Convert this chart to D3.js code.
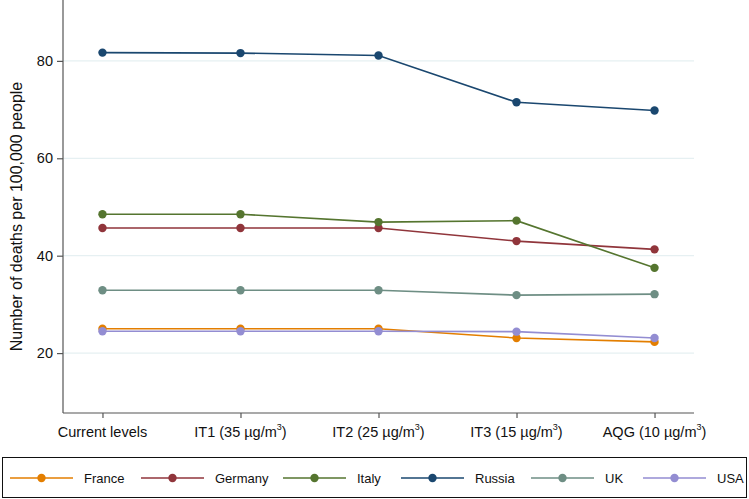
<!DOCTYPE html>
<html>
<head>
<meta charset="utf-8">
<script src="https://cdn.jsdelivr.net/npm/d3@7"></script>
<style>
  html, body { margin: 0; padding: 0; background: #fff; }
  svg { display: block; font-family: "Liberation Sans", Arial, sans-serif; }
</style>
</head>
<body>
<svg id="chart" width="749" height="499"></svg>
<script>
// ---- data ----
const categories = ["Current levels", "IT1 (35 µg/m3)", "IT2 (25 µg/m3)", "IT3 (15 µg/m3)", "AQG (10 µg/m3)"];
const categoryLabels = [
  ["Current levels", ""],
  ["IT1 (35 µg/m", "3", ")"],
  ["IT2 (25 µg/m", "3", ")"],
  ["IT3 (15 µg/m", "3", ")"],
  ["AQG (10 µg/m", "3", ")"]
];
const seriesNames = ["France", "Germany", "Italy", "Russia", "UK", "USA"];
const france  = [25.0, 25.0, 25.0, 23.1, 22.3];
const germany = [45.7, 45.7, 45.7, 43.0, 41.3];
const italy   = [48.5, 48.5, 46.9, 47.2, 37.5];
const russia  = [81.7, 81.6, 81.1, 71.5, 69.8];
const uk      = [32.9, 32.9, 32.9, 31.9, 32.1];
const usa     = [24.5, 24.5, 24.5, 24.4, 23.1];
const yTicks  = [20, 40, 60, 80];
const colors  = ["#e37e00", "#90353b", "#55752f", "#1a476f", "#6e8e84", "#938dd2"];

const seriesValues = [france, germany, italy, russia, uk, usa];

// ---- layout ----
const svg = d3.select("#chart");
const plot = { left: 63, right: 694, top: 0, bottom: 413 };

const x = d3.scalePoint().domain(categories).range([plot.left, plot.right]).padding(0.286);
const y = d3.scaleLinear().domain([7.7, 92.5]).range([plot.bottom, plot.top]);

// gridlines
svg.append("g").selectAll("line").data(yTicks).join("line")
  .attr("x1", plot.left).attr("x2", plot.right)
  .attr("y1", d => y(d)).attr("y2", d => y(d))
  .attr("stroke", "#e6f0f2").attr("stroke-width", 1.2);

// y axis
const yAxis = svg.append("g").attr("transform", `translate(${plot.left},0)`)
  .call(d3.axisLeft(y).tickValues(yTicks).tickSize(6).tickPadding(4).tickSizeOuter(0));
yAxis.select(".domain").remove();
yAxis.append("line").attr("x1", 0).attr("x2", 0).attr("y1", plot.top).attr("y2", plot.bottom)
  .attr("stroke", "#555").attr("stroke-width", 1.2);
yAxis.selectAll(".tick line").attr("stroke", "#555").attr("stroke-width", 1.2);
yAxis.selectAll(".tick text").attr("fill", "#111").style("font-size", "14.5px")
  .style("font-family", "'Liberation Sans', Arial, sans-serif");

// x axis
const xAxis = svg.append("g").attr("transform", `translate(0,${plot.bottom})`)
  .call(d3.axisBottom(x).tickSize(5).tickSizeOuter(0).tickFormat(""));
xAxis.select(".domain").remove();
xAxis.append("line").attr("x1", plot.left).attr("x2", plot.right).attr("y1", 0).attr("y2", 0)
  .attr("stroke", "#555").attr("stroke-width", 1.2);
xAxis.selectAll(".tick line").attr("stroke", "#555").attr("stroke-width", 1.2);
xAxis.selectAll(".tick text").remove();
categories.forEach((c, i) => {
  const t = svg.append("text")
    .attr("x", x(c)).attr("y", plot.bottom + 24)
    .attr("text-anchor", "middle").attr("fill", "#111")
    .style("font-size", "14.5px");
  const parts = categoryLabels[i];
  t.append("tspan").text(parts[0]);
  if (parts.length > 2) {
    t.append("tspan").attr("dy", -7).style("font-size", "9px").text(parts[1]);
    t.append("tspan").attr("dy", 7).text(parts[2]);
  }
});

// y axis title
svg.append("text")
  .attr("transform", `translate(22,${(plot.top + plot.bottom) / 2 + 10}) rotate(-90)`)
  .attr("text-anchor", "middle").attr("fill", "#111")
  .style("font-size", "16px")
  .text("Number of deaths per 100,000 people");

// series
const line = d3.line().x((d, i) => x(categories[i])).y(d => y(d));
seriesValues.forEach((vals, s) => {
  const g = svg.append("g");
  g.append("path").datum(vals).attr("d", line)
    .attr("fill", "none").attr("stroke", colors[s]).attr("stroke-width", 1.6);
  g.selectAll("circle").data(vals).join("circle")
    .attr("cx", (d, i) => x(categories[i])).attr("cy", d => y(d))
    .attr("r", 4.2).attr("fill", colors[s]);
});

// legend
const legend = svg.append("g");
legend.append("rect").attr("x", 2.5).attr("y", 457.5).attr("width", 744).attr("height", 40)
  .attr("fill", "#fff").attr("stroke", "#111").attr("stroke-width", 1);
const legendStarts = [10, 141, 283, 401, 531, 643];
const legendY = 478;
seriesNames.forEach((name, s) => {
  const lx = legendStarts[s];
  legend.append("line").attr("x1", lx).attr("x2", lx + 63).attr("y1", legendY).attr("y2", legendY)
    .attr("stroke", colors[s]).attr("stroke-width", 1.6);
  legend.append("circle").attr("cx", lx + 31.5).attr("cy", legendY).attr("r", 4.2).attr("fill", colors[s]);
  legend.append("text").attr("x", lx + 74).attr("y", legendY + 4.6)
    .attr("fill", "#111").style("font-size", "13px").text(name);
});
</script>
</body>
</html>
